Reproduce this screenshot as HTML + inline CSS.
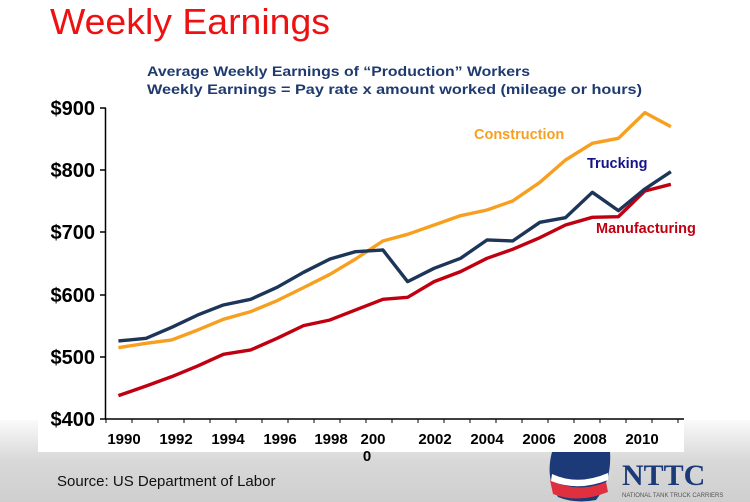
<!DOCTYPE html>
<html><head><style>html,body{margin:0;padding:0;background:#fff}svg{display:block}</style></head><body>
<svg width="750" height="502" viewBox="0 0 750 502" xmlns="http://www.w3.org/2000/svg" font-family="Liberation Sans, sans-serif">
<defs><linearGradient id="g" x1="0" y1="0" x2="0" y2="1"><stop offset="0" stop-color="#fafafa"/><stop offset="0.5" stop-color="#d8d8d8"/><stop offset="1" stop-color="#cfcfcf"/></linearGradient></defs>
<rect width="750" height="502" fill="#fff"/>
<rect y="420" width="750" height="82" fill="url(#g)"/>
<rect x="38" y="420" width="646" height="32" fill="#fff"/>
<text x="50" y="34" font-size="36" fill="#ee1111" textLength="280" lengthAdjust="spacingAndGlyphs">Weekly Earnings</text>
<text x="147" y="76" font-size="14" font-weight="bold" fill="#1f3a6e" textLength="383" lengthAdjust="spacingAndGlyphs">Average Weekly Earnings of “Production” Workers</text>
<text x="147" y="94" font-size="14" font-weight="bold" fill="#1f3a6e" textLength="495" lengthAdjust="spacingAndGlyphs">Weekly Earnings = Pay rate x amount worked (mileage or hours)</text>
<g font-size="20" font-weight="bold" fill="#000" text-anchor="end">
<text x="95" y="115">$900</text><text x="95" y="177">$800</text><text x="95" y="239">$700</text><text x="95" y="302">$600</text><text x="95" y="364">$500</text><text x="95" y="426">$400</text>
</g>
<g stroke="#000" stroke-width="1.5">
<line x1="105.5" y1="108" x2="105.5" y2="419"/>
<line x1="105" y1="419" x2="684" y2="419"/>
<line x1="100" y1="108" x2="106" y2="108"/><line x1="100" y1="170" x2="106" y2="170"/><line x1="100" y1="232" x2="106" y2="232"/><line x1="100" y1="295" x2="106" y2="295"/><line x1="100" y1="357" x2="106" y2="357"/><line x1="100" y1="419" x2="106" y2="419"/>
</g>
<g stroke="#000" stroke-width="1">
<path d="M106 419v4M132 419v4M158 419v4M184 419v4M210 419v4M236 419v4M262 419v4M288 419v4M314 419v4M340 419v4M366 419v4M392 419v4M418 419v4M444 419v4M470 419v4M496 419v4M522 419v4M548 419v4M574 419v4M600 419v4M626 419v4M652 419v4M678 419v4"/>
</g>
<g font-size="15" font-weight="bold" fill="#000" text-anchor="middle">
<text x="124" y="444">1990</text><text x="176" y="444">1992</text><text x="228" y="444">1994</text><text x="280" y="444">1996</text><text x="331" y="444">1998</text><text x="373" y="444">200</text><text x="367" y="461">0</text><text x="435" y="444">2002</text><text x="487" y="444">2004</text><text x="539" y="444">2006</text><text x="590" y="444">2008</text><text x="642" y="444">2010</text>
</g>
<g transform="translate(80,90) scale(0.4132,0.3333)" fill="none" stroke-width="3.4" stroke-linejoin="round">
<polyline vector-effect="non-scaling-stroke" stroke="#f7a020" points="93,773 160,760 222,750 285,720 347,688 413,665 477,632 541,593 605,553 667,507 733,453 793,433 857,405 921,377 985,360 1047,333 1113,277 1175,210 1240,160 1303,145 1367,68 1430,110"/>
<polyline vector-effect="non-scaling-stroke" stroke="#c00010" points="93,917 160,888 222,860 285,828 347,793 413,780 477,745 541,707 605,690 667,660 733,628 793,622 857,575 921,545 985,505 1047,478 1113,443 1175,405 1240,382 1303,380 1367,303 1430,283"/>
<polyline vector-effect="non-scaling-stroke" stroke="#1c3558" points="93,753 160,745 222,712 285,675 347,645 413,628 477,592 541,547 605,507 667,485 733,480 793,575 857,535 921,505 985,450 1047,453 1113,397 1175,383 1240,307 1303,362 1367,297 1430,245"/>
</g>
<text x="474" y="139" font-size="14.5" font-weight="bold" fill="#f7a020">Construction</text>
<text x="587" y="168" font-size="14.5" font-weight="bold" fill="#14148a">Trucking</text>
<text x="596" y="233" font-size="14.5" font-weight="bold" fill="#c00010">Manufacturing</text>
<text x="57" y="486" font-size="15" fill="#111">Source: US Department of Labor</text>
<g>
<path d="M552 452 Q545 478 558 497 Q575 504 596 500 Q612 480 610 452 Z" fill="#1c3a78"/>
<path d="M550 480 Q578 494 606 482 L608 492 Q578 504 553 494 Z" fill="#e03040"/>
<path d="M552 474 Q578 486 608 473 L608 480 Q578 492 551 481 Z" fill="#fff"/>
<text x="622" y="485" font-family="Liberation Serif, serif" font-size="30" font-weight="bold" fill="#1c3a78">NTTC</text>
<text x="622" y="497" font-size="6" fill="#555">NATIONAL TANK TRUCK CARRIERS</text>
</g>
</svg>
</body></html>
